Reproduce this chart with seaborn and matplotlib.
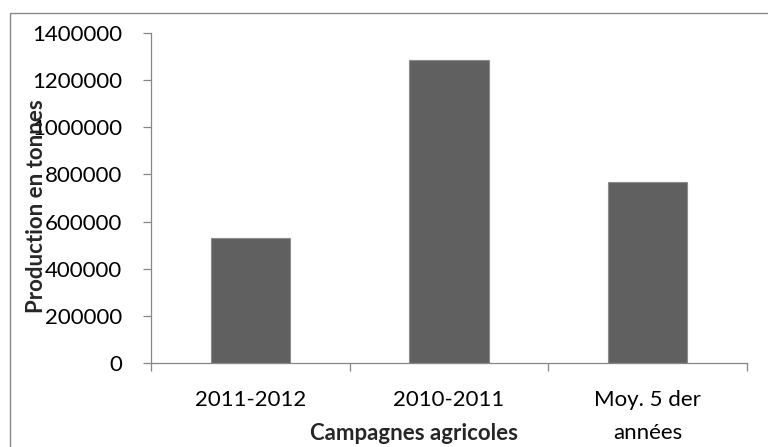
import matplotlib
matplotlib.use("Agg")
import matplotlib.pyplot as plt
import seaborn as sns
import pandas as pd
from matplotlib.patches import Rectangle

# Production by agricultural season (tonnes)
categories = ["2011-2012", "2010-2011", "Moy. 5 der\nannées"]
production = [532000, 1288000, 769000]
y_ticks = [0, 200000, 400000, 600000, 800000, 1000000, 1200000, 1400000]
y_tick_labels = [str(v) for v in y_ticks]
x_title = "Campagnes agricoles"
y_title = "Production en tonnes"

sns.set_theme(style="white")
plt.rcParams["font.family"] = ["Lato", "DejaVu Sans"]

W, H = 768, 447
fig = plt.figure(figsize=(W / 100, H / 100), dpi=100)
ax = fig.add_axes([151 / W, 1 - 362.7 / H, 596 / W, 329.4 / H])

df = pd.DataFrame({"campagne": categories, "production": production})
sns.barplot(data=df, x="campagne", y="production", color="#606060",
            saturation=1, width=0.4, edgecolor="#8c8c8c", linewidth=0.8,
            ax=ax)

ax.set_xlim(-0.5, 2.5)
ax.set_ylim(0, 1400000)

axis_grey = "#868686"
sns.despine(ax=ax)
for side in ("left", "bottom"):
    ax.spines[side].set_color(axis_grey)
    ax.spines[side].set_linewidth(0.9)

ax.set_yticks(y_ticks, y_tick_labels)
ax.tick_params(axis="y", length=5.8, width=0.9, color=axis_grey, pad=14.9,
               labelsize=16, labelcolor="black", direction="out", left=True)

ax.set_xticks([0, 1, 2], categories, linespacing=1.85)
ax.set_xticks([-0.5, 0.5, 1.5, 2.5], minor=True)
ax.tick_params(axis="x", which="major", length=0, pad=19.5, labelsize=16,
               labelcolor="black")
ax.tick_params(axis="x", which="minor", length=5.8, width=0.9,
               color=axis_grey, direction="out", bottom=True)

ax.set_xlabel(x_title, fontsize=16, fontweight="bold")
ax.xaxis.set_label_coords((414 - 151) / 596, (362.7 - 440) / 329.4)
ax.xaxis.label.set_va("baseline")

ax.set_ylabel(y_title, fontsize=16, fontweight="bold")
ax.yaxis.set_label_coords((37 - 151) / 596, (362.7 - 206) / 329.4)
ax.yaxis.label.set_va("center")

# chart frame
fig.patches.append(Rectangle((9.5 / W, -0.1), 1.2, 1 - 12.7 / H + 0.1,
                             transform=fig.transFigure, fill=False,
                             edgecolor="#8a8a8a", linewidth=1.0))

fig.savefig("out.png", dpi=100)
